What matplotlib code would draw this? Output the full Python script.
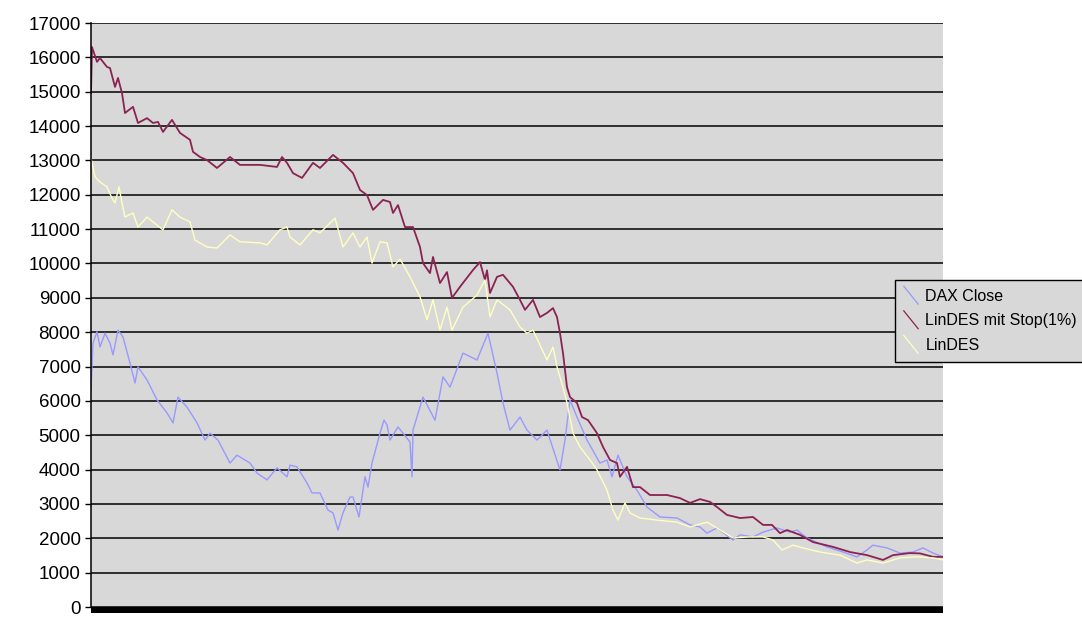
import matplotlib
matplotlib.use("Agg")
import matplotlib.pyplot as plt
from matplotlib.lines import Line2D
from matplotlib.patches import Rectangle
from matplotlib.legend_handler import HandlerBase

plt.rcParams['font.family'] = ['Liberation Sans', 'DejaVu Sans']

# ---- data: (trading-day index, value) ----
dax_close = [
    (0, 6300), (10, 7680), (30, 8010), (45, 7570), (70, 7970), (95, 7680), (110, 7340),
    (135, 8060), (160, 7860), (195, 7100), (220, 6520), (235, 6990), (280, 6610), (330, 6030),
    (380, 5650), (410, 5360), (435, 6110), (480, 5820), (530, 5360), (570, 4860), (595, 5060),
    (635, 4860), (695, 4190), (730, 4420), (795, 4190), (830, 3900), (880, 3700), (930, 4050),
    (980, 3790), (995, 4130), (1030, 4080), (1080, 3610), (1105, 3320), (1145, 3320),
    (1185, 2820), (1210, 2740), (1235, 2240), (1260, 2740), (1295, 3200), (1310, 3200),
    (1340, 2620), (1370, 3790), (1385, 3490), (1405, 4190), (1445, 5060), (1465, 5440),
    (1480, 5300), (1495, 4860), (1535, 5240), (1560, 5060), (1595, 4800), (1605, 3790),
    (1610, 5150), (1660, 6110), (1720, 5440), (1760, 6700), (1795, 6400), (1860, 7390),
    (1930, 7190), (1985, 7970), (2030, 6810), (2060, 5940), (2095, 5150), (2145, 5530),
    (2180, 5150), (2230, 4860), (2280, 5150), (2345, 3990), (2370, 4860), (2395, 6030),
    (2430, 5530), (2480, 4860), (2545, 4190), (2580, 4280), (2605, 3790), (2635, 4420),
    (2680, 3790), (2730, 3400), (2780, 2910), (2845, 2620), (2930, 2590), (2995, 2390),
    (3045, 2330), (3080, 2150), (3130, 2300), (3210, 1950), (3245, 2100), (3310, 2040),
    (3360, 2180), (3430, 2300), (3495, 2180), (3530, 2240), (3580, 2010), (3680, 1750),
    (3760, 1600), (3830, 1460), (3880, 1660), (3910, 1800), (3980, 1720), (4045, 1570),
    (4110, 1600), (4160, 1720), (4210, 1570), (4260, 1460),
]

lindes_stop = [
    (0, 14960), (5, 16300), (30, 15870), (45, 15980), (80, 15720), (95, 15690), (120, 15140),
    (135, 15400), (155, 14960), (170, 14380), (210, 14560), (235, 14090), (280, 14230),
    (310, 14090), (335, 14120), (360, 13830), (405, 14180), (445, 13800), (495, 13600),
    (510, 13250), (545, 13100), (580, 13010), (630, 12780), (695, 13100), (745, 12870),
    (845, 12870), (930, 12810), (955, 13100), (980, 12930), (1010, 12630), (1055, 12490),
    (1110, 12930), (1145, 12780), (1210, 13160), (1260, 12930), (1310, 12630), (1345, 12140),
    (1380, 11990), (1410, 11560), (1460, 11850), (1495, 11790), (1510, 11470), (1535, 11700),
    (1570, 11060), (1610, 11060), (1645, 10480), (1660, 10010), (1695, 9720), (1710, 10190),
    (1745, 9430), (1780, 9750), (1805, 9000), (1845, 9320), (1910, 9810), (1945, 10040),
    (1970, 9520), (1980, 9800), (1995, 9140), (2030, 9610), (2060, 9670), (2110, 9320),
    (2145, 8940), (2170, 8650), (2210, 8940), (2245, 8440), (2280, 8560), (2310, 8700),
    (2330, 8440), (2345, 7970), (2360, 7390), (2380, 6400), (2395, 6110), (2430, 5940),
    (2455, 5530), (2485, 5440), (2530, 5060), (2560, 4660), (2595, 4280), (2630, 4190),
    (2645, 3790), (2680, 4080), (2710, 3490), (2745, 3490), (2795, 3260), (2880, 3260),
    (2945, 3170), (2995, 3030), (3045, 3140), (3095, 3060), (3130, 2910), (3180, 2680),
    (3245, 2590), (3310, 2620), (3360, 2390), (3405, 2390), (3445, 2150), (3480, 2240),
    (3545, 2100), (3610, 1890), (3710, 1750), (3795, 1600), (3880, 1510), (3960, 1370),
    (4010, 1510), (4095, 1570), (4145, 1560), (4210, 1460), (4260, 1460),
]

lindes = [
    (0, 13070), (20, 12520), (45, 12370), (80, 12230), (105, 11900), (120, 11760),
    (140, 12230), (155, 11760), (170, 11350), (210, 11470), (235, 11060), (280, 11350),
    (310, 11210), (360, 10980), (405, 11560), (445, 11350), (495, 11210), (520, 10680),
    (580, 10480), (630, 10450), (695, 10830), (745, 10630), (845, 10600), (880, 10540),
    (945, 10980), (980, 11060), (995, 10770), (1045, 10540), (1110, 10980), (1145, 10890),
    (1220, 11320), (1260, 10480), (1310, 10890), (1345, 10480), (1380, 10770), (1405, 10010),
    (1445, 10630), (1480, 10600), (1510, 9900), (1545, 10130), (1595, 9610), (1645, 9030),
    (1680, 8360), (1710, 8940), (1745, 8060), (1780, 8730), (1805, 8060), (1860, 8730),
    (1930, 9080), (1970, 9520), (1995, 8440), (2030, 8940), (2095, 8650), (2145, 8150),
    (2180, 7970), (2210, 8060), (2280, 7190), (2310, 7570), (2330, 6990), (2360, 6400),
    (2380, 5940), (2410, 5060), (2445, 4660), (2495, 4280), (2530, 3990), (2580, 3400),
    (2610, 2820), (2635, 2530), (2670, 3030), (2695, 2740), (2745, 2590), (2830, 2530),
    (2930, 2470), (2995, 2330), (3080, 2470), (3130, 2300), (3210, 2010), (3295, 2040),
    (3360, 2040), (3410, 1950), (3455, 1660), (3510, 1800), (3560, 1720), (3645, 1600),
    (3745, 1510), (3830, 1280), (3880, 1370), (3960, 1280), (4045, 1430), (4130, 1460),
    (4210, 1430), (4260, 1370),
]

series_names = ["DAX Close", "LinDES mit Stop(1%)", "LinDES"]
series_colors = ['#9999FF', '#8B2252', '#FFFFC0']
y_ticks = list(range(0, 17001, 1000))

# ---- figure ----
fig = plt.figure(figsize=(10.82, 6.19), dpi=100)
ax = fig.add_axes([91/1082, 1 - 607/619, (943 - 91)/1082, (607 - 23)/619])
ax.set_facecolor('#D8D8D8')

lines = []
for pts, name, col, lw in zip([dax_close, lindes_stop, lindes], series_names,
                              series_colors, [1.0, 1.3, 1.0]):
    xs, ys = zip(*pts)
    ln, = ax.plot(xs, ys, color=col, lw=lw, label=name)
    lines.append(ln)

ax.set_xlim(0, 4260)
ax.set_ylim(0, 17000)
ax.set_yticks(y_ticks)
ax.set_yticklabels([str(v) for v in y_ticks])
ax.yaxis.grid(True, color='black', lw=1.1)
ax.set_axisbelow(True)
ax.set_xticks([])
for s in ['top', 'right', 'bottom']:
    ax.spines[s].set_visible(False)
ax.spines['left'].set_color('black')
ax.spines['left'].set_linewidth(1.1)
ax.tick_params(axis='y', direction='out', length=4.5, width=1, pad=3, labelsize=13.5,
               colors='black')

# dense x-axis tick band at the bottom
ax.add_patch(Rectangle((0, -6/584), 1, 6/584, transform=ax.transAxes,
                       facecolor='black', edgecolor='none', clip_on=False))


class DiagHandler(HandlerBase):
    def create_artists(self, legend, orig_handle, xdescent, ydescent, width, height,
                       fontsize, trans):
        ln = Line2D([-xdescent, -xdescent + width],
                    [-ydescent + height * 1.3, -ydescent - height * 0.3],
                    color=orig_handle.get_color(), lw=0.9, transform=trans)
        return [ln]


leg = fig.legend(handles=lines, loc='upper left',
                 bbox_to_anchor=(895/1082, 1 - 280/619), bbox_transform=fig.transFigure,
                 borderaxespad=0, fontsize=11.5, frameon=True, fancybox=False,
                 handler_map={Line2D: DiagHandler()}, handlelength=0.9,
                 handletextpad=0.45, labelspacing=0.6, borderpad=0.55)
leg.get_frame().set_facecolor('#D8D8D8')
leg.get_frame().set_edgecolor('black')
leg.get_frame().set_linewidth(1.0)
leg.get_frame().set_alpha(1)

fig.savefig('out.png', dpi=100, facecolor='white')
